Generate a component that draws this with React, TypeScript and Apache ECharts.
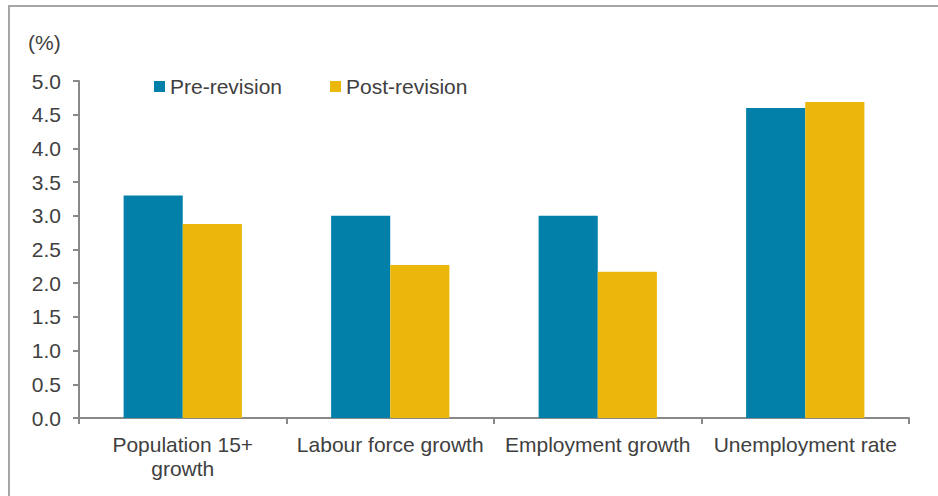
import React, { useEffect, useRef } from "react";
import * as echarts from "echarts";

const categories = ["Population 15+\ngrowth", "Labour force growth", "Employment growth", "Unemployment rate"];
const preRevision = [3.3, 3.0, 3.0, 4.6];
const postRevision = [2.88, 2.27, 2.17, 4.69];
const seriesNames = ["Pre-revision", "Post-revision"];
const unitLabel = "(%)";

const FONT = "'Liberation Sans', Arial, sans-serif";
const TEXT = "#404040";

export default function App() {
  const ref = useRef<HTMLDivElement>(null);
  useEffect(() => {
    document.body.style.margin = "0";
    const chart = echarts.init(ref.current!, null, { renderer: "svg" });
    chart.setOption({
      animation: false,
      backgroundColor: "#ffffff",
      textStyle: { fontFamily: FONT },
      graphic: [
        {
          type: "rect",
          shape: { x: 9, y: 6, width: 960, height: 520 },
          style: { fill: "none", stroke: "#a6a6a6", lineWidth: 2 },
          silent: true,
        },
        {
          type: "text",
          x: 28,
          y: 42,
          style: { text: unitLabel, font: `21px ${FONT}`, fill: TEXT, textVerticalAlign: "middle" },
        },
      ],
      legend: {
        left: 149,
        top: 71,
        icon: "rect",
        itemWidth: 11,
        itemHeight: 11,
        itemGap: 48,
        textStyle: { fontSize: 21, color: TEXT, fontFamily: FONT },
        data: seriesNames,
      },
      grid: { left: 79, right: 29, top: 81, bottom: 78, containLabel: false },
      xAxis: {
        type: "category",
        data: categories,
        axisLine: { lineStyle: { color: "#898989", width: 2 } },
        axisTick: { show: true, length: 6, lineStyle: { color: "#898989", width: 2 } },
        axisLabel: { color: TEXT, fontSize: 21, fontFamily: FONT, margin: 14, lineHeight: 24, interval: 0 },
      },
      yAxis: {
        type: "value",
        min: 0,
        max: 5,
        interval: 0.5,
        splitLine: { show: false },
        axisLine: { show: true, lineStyle: { color: "#898989", width: 2 } },
        axisTick: { show: true, length: 6, lineStyle: { color: "#898989", width: 2 } },
        axisLabel: {
          color: TEXT,
          fontSize: 21,
          fontFamily: FONT,
          margin: 18,
          formatter: (v: number) => v.toFixed(1),
        },
      },
      series: [
        {
          name: seriesNames[0],
          type: "bar",
          data: preRevision,
          itemStyle: { color: "#0380aa" },
          barGap: "0%",
          barCategoryGap: "43%",
        },
        {
          name: seriesNames[1],
          type: "bar",
          data: postRevision,
          itemStyle: { color: "#ebb70a" },
          barGap: "0%",
          barCategoryGap: "43%",
        },
      ],
    });
    return () => chart.dispose();
  }, []);
  return <div ref={ref} style={{ position: "fixed", left: 0, top: 0, width: 938, height: 496 }} />;
}
